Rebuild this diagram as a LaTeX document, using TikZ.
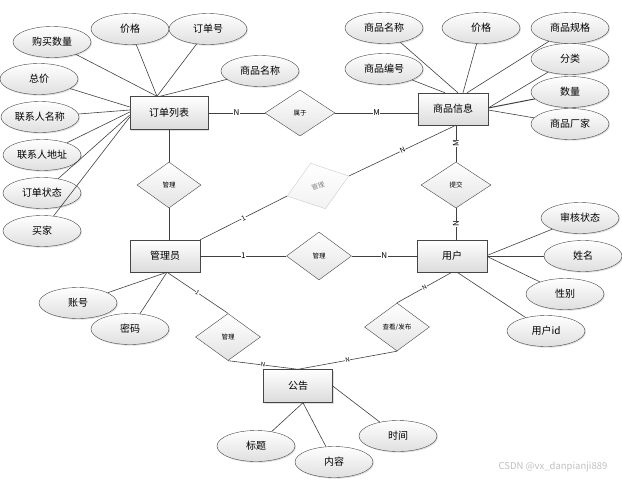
\documentclass[tikz,border=0pt]{standalone}
\usepackage{fontspec}
\setmainfont{Noto Sans CJK SC}
\usetikzlibrary{shapes.geometric,shadows,calc}
\begin{document}
\begin{tikzpicture}[x=1pt,y=-1pt,
  lc/.style={draw=gray!55!black},
  shad/.style={drop shadow={opacity=0.25,shadow xshift=1pt,shadow yshift=-1.2pt}},
  ent/.style={rectangle,lc,top color=white,bottom color=gray!28,minimum width=70pt,minimum height=32pt,inner sep=0pt,font=\fontsize{10}{12}\selectfont,shad},
  attr/.style={ellipse,lc,top color=white,bottom color=gray!25,minimum width=78pt,minimum height=31pt,inner sep=0pt,font=\fontsize{10}{12}\selectfont,shad},
  rel/.style={diamond,lc,top color=white,bottom color=gray!22,minimum width=65pt,minimum height=47pt,inner sep=0pt,font=\fontsize{6.5}{8}\selectfont},
  conn/.style={draw=gray!50!black,line width=0.6pt},
  card/.style={font=\fontsize{8}{9}\selectfont,fill=white,inner sep=0.4pt},
  cards/.style={font=\fontsize{6}{7}\selectfont,fill=white,inner sep=0.3pt,sloped}]
\useasboundingbox (0,0) rectangle (622,480);

% entities
\node[ent,minimum width=78pt,minimum height=33pt] (ddlb) at (169,113) {订单列表};
\node[ent] (spxx) at (453,109) {商品信息};
\node[ent] (gly) at (165,256) {管理员};
\node[ent] (yh) at (452,256) {用户};
\node[ent,minimum width=69pt,minimum height=33pt] (gg) at (298,386) {公告};

% relationships
\node[rel,minimum width=70pt,minimum height=46pt] (sy) at (300,113) {属于};
\node[rel,minimum width=64pt,minimum height=46pt] (glA) at (169,185) {管理};
\node[rel,minimum height=48pt] (glB) at (319,256) {管理};
\node[rel,minimum width=70pt,minimum height=46pt] (tj) at (456,185) {提交};
\node[rel] (glC) at (228,337) {管理};
\node[rel,minimum height=48pt] (ckfb) at (397,327) {查看/发布};
\node[rel,minimum height=48pt,rotate=18,draw=gray!40,bottom color=gray!10,text=gray] (glD) at (318,186) {管理};

% attributes of 订单列表
\node[attr] (a1) at (52,42) {购买数量};
\node[attr] (a2) at (130,29) {价格};
\node[attr] (a3) at (208,29) {订单号};
\node[attr] (a4) at (260,71) {商品名称};
\node[attr] (a5) at (39,79) {总价};
\node[attr] (a6) at (40,117) {联系人名称};
\node[attr] (a7) at (42,155) {联系人地址};
\node[attr] (a8) at (42,193) {订单状态};
\node[attr] (a9) at (42,231) {买家};

% attributes of 商品信息
\node[attr] (b1) at (384,28) {商品名称};
\node[attr] (b2) at (481,28) {价格};
\node[attr] (b3) at (570,28) {商品规格};
\node[attr] (b4) at (384,69) {商品编号};
\node[attr] (b5) at (570,59) {分类};
\node[attr] (b6) at (570,92) {数量};
\node[attr] (b7) at (570,124) {商品厂家};

% attributes of 用户
\node[attr] (c1) at (580,218) {审核状态};
\node[attr] (c2) at (583,256) {姓名};
\node[attr] (c3) at (565,294) {性别};
\node[attr] (c4) at (546,331) {用户id};

% attributes of 管理员
\node[attr] (d1) at (78,303) {账号};
\node[attr] (d2) at (130,329) {密码};

% attributes of 公告
\node[attr] (e1) at (256,446) {标题};
\node[attr] (e2) at (334,462) {内容};
\node[attr] (e3) at (398,436) {时间};

% attribute links
\foreach \n/\dx in {a1/-12,a2/-12,a3/-12,a4/-9}
  \draw[conn] (\n) -- ($(ddlb.north)+(\dx,0)$);
\foreach \n/\dy in {a5/-6,a6/-3,a7/-1,a8/2,a9/4}
  \draw[conn] (\n) -- ($(ddlb.west)+(0,\dy)$);
\foreach \n/\dx in {b1/5,b2/10,b3/14,b4/-8}
  \draw[conn] (\n) -- ($(spxx.north)+(\dx,0)$);
\draw[conn] (b5) -- ($(spxx.east)+(0,-1)$);
\draw[conn,line width=1pt] (b6) -- ($(spxx.east)+(0,-1)$);
\draw[conn] (b7) -- ($(spxx.east)+(0,1)$);
\draw[conn] (c1) -- ($(yh.east)+(1,-1)$);
\draw[conn,line width=0.9pt] (c2) -- (yh.east);
\draw[conn] (c3) -- ($(yh.east)+(1,1)$);
\draw[conn] (c4) -- ($(yh.south)+(5,0)$);
\draw[conn] (d1) -- ($(gly.south)+(2,0)$);
\draw[conn] (d2) -- ($(gly.south)+(2,0)$);
\draw[conn] (e1) -- ($(gg.south)+(5,0)$);
\draw[conn] (e2) -- ($(gg.south)+(5,0)$);
\draw[conn] (e3) -- (gg.east);

% relationship links
\draw[conn] (ddlb.east) -- node[card]{N} (sy.west);
\draw[conn] (sy.east) -- node[card]{M} (spxx.west |- sy.east);
\draw[conn] (ddlb.south) -- (glA.north);
\draw[conn] (glA.south) -- (gly.north -| glA.south);
\draw[conn] (gly.east) -- node[card]{1} (glB.west);
\draw[conn] (glB.east) -- node[card]{N} (yh.west);
\draw[conn] (spxx.south -| tj.north) -- node[card,rotate=90]{M} (tj.north);
\draw[conn] (tj.south) -- node[card,rotate=90]{N} (yh.north -| tj.south);
\draw[conn] (gly.north east) -- node[card,sloped,font=\fontsize{7}{8}\selectfont]{1} (glD.west);
\draw[conn] (glD.east) -- node[card,sloped,font=\fontsize{7}{8}\selectfont]{N} (spxx.south -| tj.north);
\draw[conn] ($(gly.south)+(2,0)$) -- node[cards]{1} (glC.north);
\draw[conn] (glC.south) -- node[cards]{N} (gg.north);
\draw[conn] (ckfb.north) -- node[cards]{N} (yh.south);
\draw[conn] (ckfb.south) -- node[cards]{N} (gg.north);

% watermark
\node[text=gray!50,font=\fontsize{9.5}{11}\selectfont] (wm) at (553,467) {CSDN @vx\_danpianji889};
\end{tikzpicture}
\end{document}
